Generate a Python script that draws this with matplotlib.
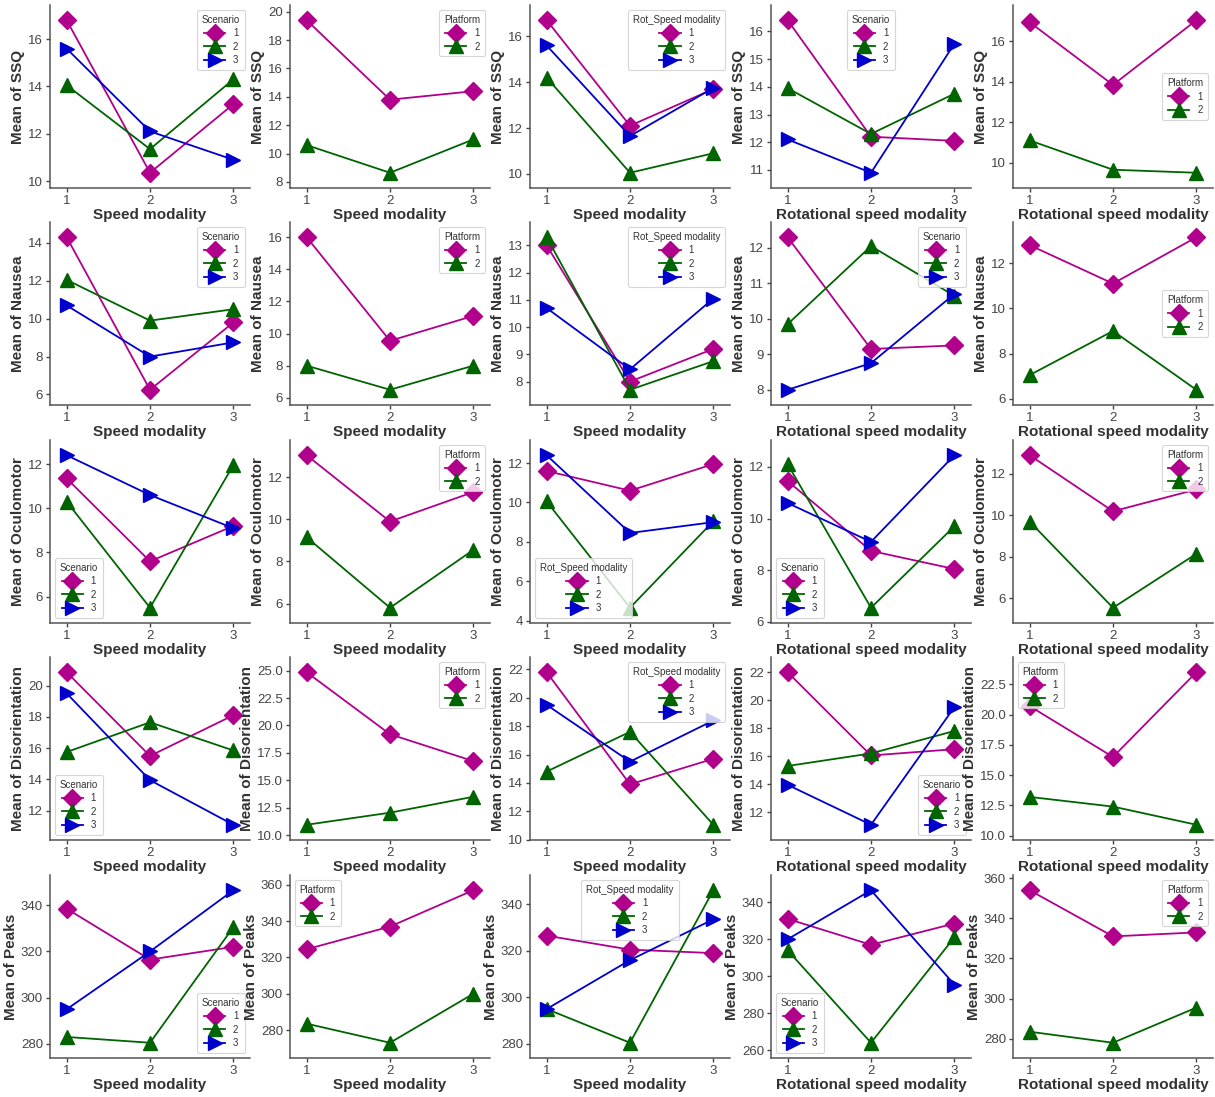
import matplotlib
matplotlib.use("Agg")
import matplotlib.pyplot as plt
from matplotlib.ticker import MultipleLocator

plt.rcParams['font.family'] = ['Liberation Sans', 'DejaVu Sans']

levels = [1, 2, 3]
row_measures = ["SSQ", "Nausea", "Oculomotor", "Disorientation", "Peaks"]
col_xlabels = ["Speed modality", "Speed modality", "Speed modality",
               "Rotational speed modality", "Rotational speed modality"]
col_groups = ["Scenario", "Platform", "Rot_Speed modality", "Scenario", "Platform"]

# values[row][col] -> list of series (one per group level)
ssq = [
    [[16.8, 10.35, 13.25], [14.05, 11.35, 14.3], [15.6, 12.1, 10.9]],
    [[19.4, 13.8, 14.4], [10.6, 8.65, 11.0]],
    [[16.7, 12.1, 13.7], [14.2, 10.05, 10.9], [15.6, 11.65, 13.75]],
    [[16.4, 12.2, 12.05], [13.95, 12.3, 13.75], [12.1, 10.9, 15.55]],
    [[16.95, 13.85, 17.05], [11.1, 9.65, 9.5]],
]
nausea = [
    [[14.3, 6.25, 9.8], [12.05, 9.9, 10.5], [10.7, 8.0, 8.75]],
    [[16.0, 9.55, 11.1], [8.0, 6.5, 8.0]],
    [[13.0, 8.0, 9.2], [13.3, 7.7, 8.75], [10.7, 8.45, 11.05]],
    [[12.3, 9.15, 9.25], [9.85, 12.05, 10.65], [8.0, 8.75, 10.7]],
    [[12.8, 11.1, 13.15], [7.05, 9.0, 6.4]],
]
oculomotor = [
    [[11.35, 7.6, 9.2], [10.3, 5.5, 11.95], [12.4, 10.6, 9.1]],
    [[13.05, 9.9, 11.3], [9.15, 5.8, 8.55]],
    [[11.6, 10.6, 11.95], [10.05, 4.65, 9.05], [12.4, 8.45, 9.0]],
    [[11.45, 8.75, 8.05], [12.1, 6.55, 9.7], [10.6, 9.1, 12.45]],
    [[12.9, 10.2, 11.25], [9.7, 5.55, 8.15]],
]
disorientation = [
    [[20.85, 15.5, 18.1], [15.75, 17.65, 15.85], [19.5, 13.95, 11.1]],
    [[24.85, 19.2, 16.75], [10.95, 12.05, 13.5]],
    [[21.8, 13.9, 15.7], [14.8, 17.6, 11.05], [19.5, 15.5, 18.4]],
    [[22.0, 16.05, 16.5], [15.3, 16.2, 17.8], [13.95, 11.1, 19.5]],
    [[20.7, 16.5, 23.5], [13.2, 12.4, 10.9]],
]
peaks = [
    [[338.5, 316.5, 322.0], [283.0, 280.5, 330.5], [295.0, 320.0, 346.5]],
    [[324.5, 337.0, 357.0], [283.5, 273.0, 300.0]],
    [[326.5, 320.5, 319.0], [295.0, 280.5, 346.0], [295.0, 316.0, 333.5]],
    [[331.0, 317.0, 328.5], [314.0, 264.0, 321.0], [320.0, 346.5, 295.5]],
    [[354.0, 331.0, 333.0], [283.5, 278.0, 295.5]],
]
all_values = [ssq, nausea, oculomotor, disorientation, peaks]

ytick_steps = [
    [2, 2, 2, 1, 2],
    [2, 2, 1, 1, 2],
    [2, 2, 2, 2, 2],
    [2, 2.5, 2, 2, 2.5],
    [20, 20, 20, 20, 20],
]

legend_locs = [
    ["upper right", "upper right", "upper right", "upper center", "center right"],
    ["upper right", "upper right", "upper right", "upper right", "center right"],
    ["lower left", "upper right", "lower left", "lower left", "upper right"],
    ["lower left", "upper right", "upper right", "lower right", "upper left"],
    ["lower right", "upper left", "upper center", "lower left", "upper right"],
]

colors = ["#b0008c", "#006400", "#0000cc"]
markers = ["D", "^", ">"]

W, H = 1215, 1097
fig = plt.figure(figsize=(W / 100, H / 100), dpi=100)

col_left = [50, 290, 530, 771, 1013]
ax_w = 200
row_top = [5, 222, 440, 657, 875]
ax_h = 183

for r in range(5):
    for c in range(5):
        l = col_left[c] / W
        b = 1 - (row_top[r] + ax_h) / H
        ax = fig.add_axes([l, b, ax_w / W, ax_h / H])
        series = all_values[r][c]
        for i, ys in enumerate(series):
            ax.plot(levels, ys, color=colors[i], marker=markers[i],
                    markersize=10 if markers[i] != "D" else 9,
                    linewidth=1.3, label=str(i + 1))
        ax.set_xlim(0.8, 3.2)
        ax.set_xticks(levels)
        ax.margins(y=0.1)
        ax.yaxis.set_major_locator(MultipleLocator(ytick_steps[r][c]))
        ax.set_xlabel(col_xlabels[c], fontsize=11, fontweight="bold", color="#333333", labelpad=1)
        ax.set_ylabel("Mean of " + row_measures[r], fontsize=11, fontweight="bold", color="#333333", labelpad=2)
        ax.tick_params(axis="both", labelsize=9.5, colors="#444444", length=3, width=1,
                       direction="out", pad=2)
        for s in ["top", "right"]:
            ax.spines[s].set_visible(False)
        for s in ["left", "bottom"]:
            ax.spines[s].set_color("#555555")
            ax.spines[s].set_linewidth(1.1)
        leg = ax.legend(title=col_groups[c], loc=legend_locs[r][c], fontsize=7,
                        title_fontsize=7, frameon=True, fancybox=True,
                        handlelength=2.2, borderpad=0.5, labelspacing=0.35,
                        markerscale=1.0)
        leg.get_frame().set_edgecolor("#cccccc")
        leg.get_frame().set_linewidth(0.8)
        leg.get_title().set_color("#333333")
        for t in leg.get_texts():
            t.set_color("#333333")

fig.savefig("out.png", dpi=100)
